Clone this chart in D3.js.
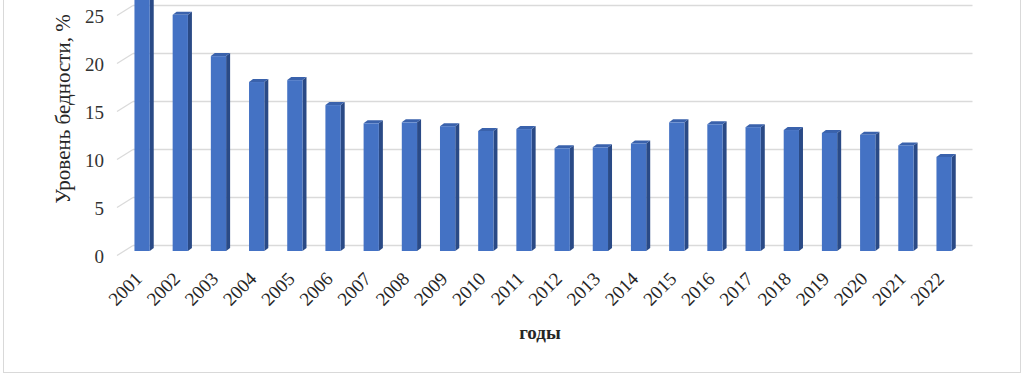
<!DOCTYPE html>
<html>
<head>
<meta charset="utf-8">
<script src="https://cdn.jsdelivr.net/npm/d3@7"></script>
<style>
  body { margin: 0; background: #fff; }
  svg { display: block; }
</style>
</head>
<body>
<div id="chart"></div>
<script>
// poverty rate by year, %
const years = ["2001", "2002", "2003", "2004", "2005", "2006", "2007", "2008", "2009", "2010", "2011",
  "2012", "2013", "2014", "2015", "2016", "2017", "2018", "2019", "2020", "2021", "2022"];
const values = [27.5, 24.6, 20.3, 17.6, 17.8, 15.2, 13.3, 13.4, 13.0, 12.5, 12.7,
  10.7, 10.8, 11.2, 13.4, 13.2, 12.9, 12.6, 12.3, 12.1, 11.0, 9.8];
const yTicks = [0, 5, 10, 15, 20, 25];
const yLabel = "Уровень бедности, %";
const xLabel = "годы";

const width = 1027, height = 377;
const depth = { dx: 4, dy: 3 }; // fake 3d offset of bars
const floorShift = 6; // front of floor is lower than back wall
const font = "'Liberation Serif', 'Times New Roman', serif";

const svg = d3.select("#chart").append("svg").attr("width", width).attr("height", height);

// frame
svg.append("rect")
  .attr("x", 3.5).attr("y", -5).attr("width", 1017).attr("height", 377.5)
  .attr("fill", "none").attr("stroke", "#d9d9d9").attr("stroke-width", 1);

// back wall scale and bar scale
const yBack = d3.scaleLinear().domain([0, 25]).range([245, 5]);
const y = d3.scaleLinear().domain([0, 25]).range([245 + floorShift, 5 + floorShift]);
const x = d3.scaleBand().domain(years).range([123, 963.2]).padding(0);
const bw = x.bandwidth() * 0.4;

// grid
const grid = svg.append("g");
yTicks.forEach((t) => {
  const gy = Math.round(yBack(t)) + 0.5;
  grid.append("line")
    .attr("x1", 133).attr("x2", 972.5).attr("y1", gy).attr("y2", gy)
    .attr("stroke", "#dadada").attr("stroke-width", 1.3);
  grid.append("line")
    .attr("x1", 117).attr("x2", 133).attr("y1", gy + 10).attr("y2", gy)
    .attr("stroke", "#dadada").attr("stroke-width", 1.3);
  grid.append("text")
    .attr("x", 104).attr("y", gy + 11)
    .attr("dy", "0.35em")
    .attr("text-anchor", "end")
    .style("font-family", font)
    .style("font-size", "19px")
    .style("fill", "#333")
    .text(t);
});

// bars
const bars = svg.append("g").selectAll("g").data(years).enter().append("g");
bars.each(function (d, i) {
  const g = d3.select(this);
  const bx = x(d) + (x.bandwidth() - bw) / 2;
  const top = y(values[i]);
  const bottom = y(0);
  // side
  g.append("path")
    .attr("d", `M${bx + bw},${top} L${bx + bw + depth.dx},${top - depth.dy} L${bx + bw + depth.dx},${bottom - depth.dy} L${bx + bw},${bottom} Z`)
    .attr("fill", "#2a4a86");
  // top
  g.append("path")
    .attr("d", `M${bx},${top} L${bx + depth.dx},${top - depth.dy} L${bx + bw + depth.dx},${top - depth.dy} L${bx + bw},${top} Z`)
    .attr("fill", "#3a62ac");
  // front
  g.append("rect")
    .attr("x", bx).attr("y", top).attr("width", bw).attr("height", bottom - top)
    .attr("fill", "#4472c4");
});

// x tick labels
svg.append("g").selectAll("text").data(years).enter().append("text")
  .attr("transform", (d) => `translate(${x(d) + x.bandwidth() / 2 + 1},${280}) rotate(-45)`)
  .attr("text-anchor", "end")
  .style("font-family", font)
  .style("font-size", "19px")
  .style("fill", "#262626")
  .text((d) => d);

// axis titles
svg.append("text")
  .attr("transform", `translate(70,${109}) rotate(-90)`)
  .attr("text-anchor", "middle")
  .style("font-family", font)
  .style("font-size", "21px")
  .style("fill", "#262626")
  .text(yLabel);

svg.append("text")
  .attr("x", 540).attr("y", 339)
  .attr("text-anchor", "middle")
  .style("font-family", font)
  .style("font-size", "19px")
  .style("font-weight", "bold")
  .style("fill", "#262626")
  .text(xLabel);
</script>
</body>
</html>
